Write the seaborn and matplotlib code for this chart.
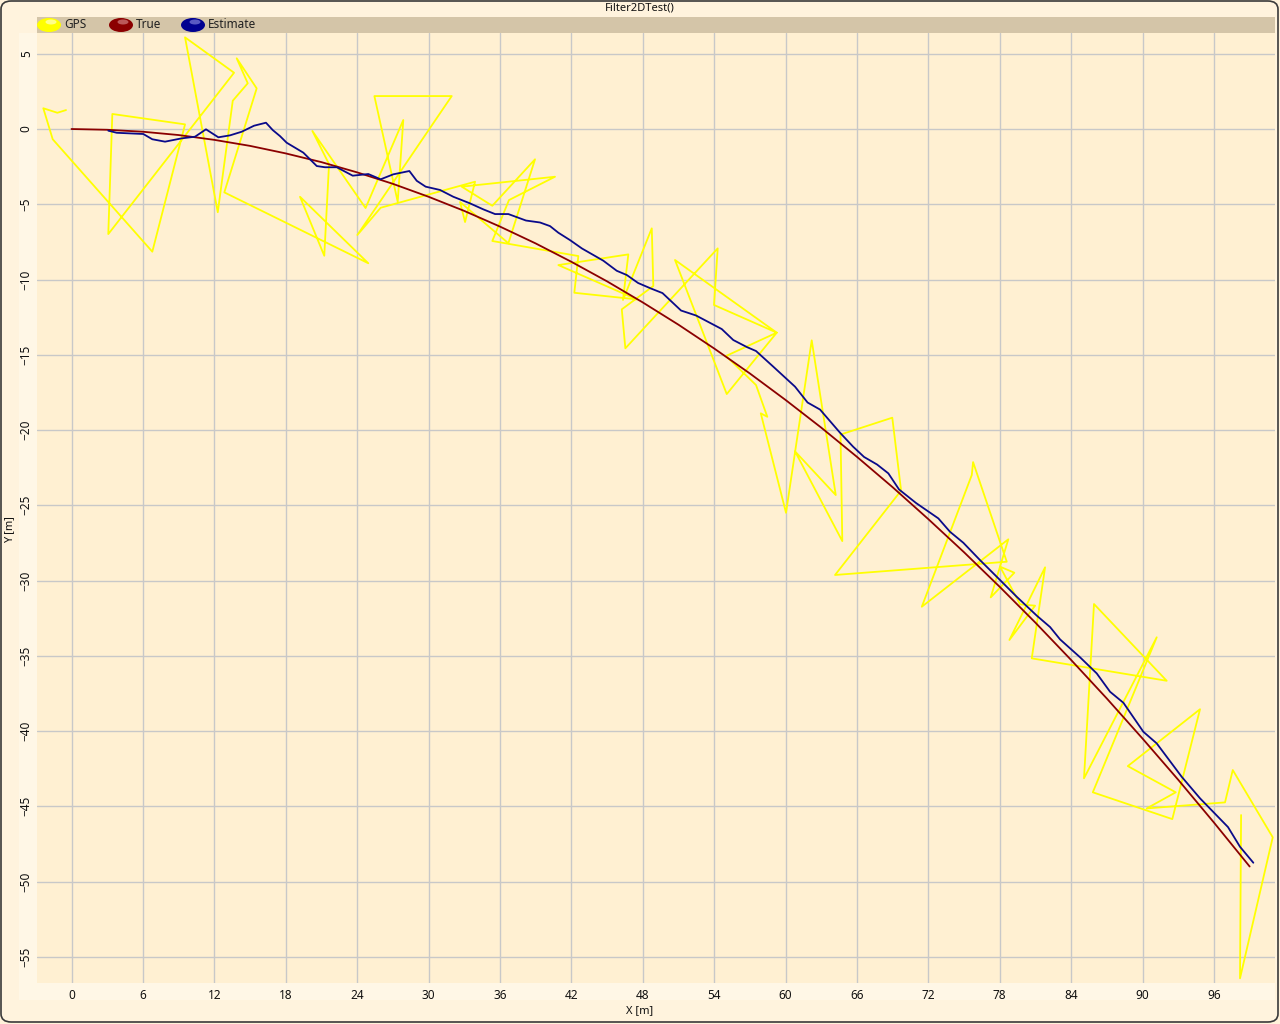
import numpy as np
import pandas as pd
import matplotlib
matplotlib.use('Agg')
import matplotlib.pyplot as plt
import seaborn as sns
from matplotlib.patches import Ellipse, Rectangle, FancyBboxPatch

# --- data ---
true_x = [0, 3, 6, 9, 12, 15, 18, 21, 24, 27, 30, 33, 36, 39, 42, 45, 48, 51, 54,
          57, 60, 63, 66, 69, 72, 75, 78, 81, 84, 87, 90, 93, 96, 99]
true_y = [0, -0.05, -0.18, -0.4, -0.72, -1.12, -1.62, -2.2, -2.88, -3.64, -4.5, -5.44,
          -6.48, -7.6, -8.82, -10.12, -11.52, -13.0, -14.58, -16.24, -18.0, -19.84,
          -21.78, -23.8, -25.92, -28.12, -30.42, -32.8, -35.28, -37.84, -40.5, -43.24,
          -46.08, -49.0]

est_x = [3.09, 3.80, 6.03, 6.79, 7.86, 9.26, 10.38, 11.30, 12.34, 13.32, 14.30, 15.34,
         16.34, 16.91, 17.52, 18.08, 19.48, 20.61, 21.30, 22.29, 23.63, 24.94, 25.98,
         27.04, 28.39, 29.01, 29.76, 30.97, 32.08, 33.49, 34.61, 35.59, 36.71, 38.19,
         39.37, 40.21, 40.91, 41.89, 42.90, 44.69, 45.82, 46.66, 47.61, 48.70, 49.66,
         51.22, 52.48, 54.64, 55.61, 56.76, 57.52, 58.97, 60.80, 61.85, 62.90, 64.58,
         65.67, 66.60, 67.69, 68.64, 69.54, 70.97, 72.84, 73.82, 74.94, 76.34, 77.75,
         79.43, 81.11, 82.23, 83.07, 84.75, 86.15, 87.27, 88.39, 90.07, 91.19, 93.29,
         94.83, 97.18, 98.19, 99.31]
est_y = [-0.11, -0.25, -0.33, -0.68, -0.84, -0.62, -0.51, -0.02, -0.55, -0.42, -0.18,
         0.22, 0.42, -0.07, -0.47, -0.91, -1.57, -2.46, -2.54, -2.54, -3.10, -2.99,
         -3.34, -3.01, -2.79, -3.44, -3.83, -4.05, -4.50, -4.94, -5.34, -5.65, -5.65,
         -6.08, -6.21, -6.45, -6.89, -7.38, -7.94, -8.75, -9.42, -9.70, -10.23, -10.60,
         -10.90, -12.06, -12.39, -13.29, -14.02, -14.49, -14.75, -15.79, -17.12, -18.17,
         -18.64, -20.18, -21.10, -21.79, -22.29, -22.88, -23.95, -24.85, -25.87, -26.76,
         -27.49, -28.64, -29.75, -31.08, -32.33, -33.09, -33.91, -35.10, -36.17, -37.39,
         -38.12, -40.05, -40.82, -43.04, -44.47, -46.38, -47.69, -48.75]

gps_x = [-0.46, -1.19, -2.37, -1.58, 6.79, 9.54, 3.43, 3.09, 13.66, 9.54, 12.29, 13.55,
         14.81, 13.88, 15.56, 12.84, 24.94, 19.20, 21.24, 21.64, 20.24, 24.71, 27.88,
         27.41, 25.45, 31.95, 24.02, 25.98, 33.91, 33.07, 32.65, 36.71, 38.95, 35.36,
         32.79, 40.63, 36.76, 35.36, 42.59, 42.25, 47.50, 40.91, 46.79, 46.34, 48.76,
         48.89, 46.24, 46.54, 54.30, 53.99, 59.26, 50.71, 55.06, 59.26, 55.00, 57.52,
         58.47, 57.92, 60.04, 62.20, 64.22, 60.80, 64.77, 64.62, 68.97, 69.71, 64.16,
         78.59, 75.76, 75.65, 71.45, 78.72, 77.24, 79.23, 78.03, 79.71, 80.97, 78.81,
         81.81, 80.69, 92.03, 85.92, 85.08, 91.19, 85.82, 92.50, 94.83, 88.76, 92.79,
         90.35, 96.93, 97.58, 100.94, 98.19, 98.28]
gps_y = [1.26, 1.08, 1.38, -0.68, -8.15, 0.31, 1.00, -6.98, 3.74, 6.09, -5.53, 1.88,
         3.04, 4.70, 2.70, -4.21, -8.92, -4.50, -8.42, -2.33, -0.13, -5.25, 0.60, -4.83,
         2.19, 2.19, -7.04, -5.23, -3.50, -6.18, -4.85, -7.59, -2.01, -5.10, -3.83,
         -3.17, -4.72, -7.44, -8.44, -10.88, -11.32, -9.04, -8.33, -11.36, -6.60,
         -10.43, -11.98, -14.57, -7.93, -11.69, -13.53, -8.70, -17.61, -13.53, -15.08,
         -17.01, -19.12, -18.89, -25.50, -14.04, -24.32, -21.42, -27.38, -20.30, -19.18,
         -24.02, -29.63, -28.75, -22.13, -22.99, -31.74, -27.26, -31.12, -29.48, -29.08,
         -31.58, -31.67, -33.95, -29.12, -35.17, -36.66, -31.56, -43.14, -33.77, -44.07,
         -45.85, -38.55, -42.33, -44.07, -45.14, -44.74, -42.59, -47.06, -56.43, -45.58]

x_ticks = list(range(0, 97, 6))
y_ticks = list(range(5, -56, -5))

gps = pd.DataFrame({'x': gps_x, 'y': gps_y})
truth = pd.DataFrame({'x': true_x, 'y': true_y})
est = pd.DataFrame({'x': est_x, 'y': est_y})

sns.set_style('white')
plt.rcParams['font.family'] = ['Noto Sans', 'DejaVu Sans']

W, H = 1280, 1024
fig = plt.figure(figsize=(12.8, 10.24), dpi=100)
fig.patch.set_facecolor('#FFF2DA')

def fx(px):
    return px / W

def fy(py):
    return 1 - py / H

# outer rounded frame
frame = FancyBboxPatch((fx(1), fy(1022)), fx(1277), 1021 / H,
                       boxstyle='round,pad=0,rounding_size=0.008',
                       transform=fig.transFigure, facecolor='#FFF3DD',
                       edgecolor='#3A3A3A', linewidth=1.2, zorder=-3)
fig.patches.append(frame)

# tick label bands
fig.patches.append(Rectangle((fx(19), fy(1000)), fx(1275 - 19), 17 / H,
                             transform=fig.transFigure, facecolor='#FFF7E6',
                             edgecolor='none', zorder=-2))
fig.patches.append(Rectangle((fx(19), fy(1000)), fx(18), (1000 - 33) / H,
                             transform=fig.transFigure, facecolor='#FFF7E6',
                             edgecolor='none', zorder=-2))

# legend bar
fig.patches.append(Rectangle((fx(37), fy(33)), fx(1275 - 37), 16 / H,
                             transform=fig.transFigure, facecolor='#D4C5A8',
                             edgecolor='none', zorder=1))

legend_items = [('GPS', '#FFFF00', '#FFFFB0', 49, 64),
                ('True', '#8B0000', '#C87070', 121, 136),
                ('Estimate', '#000090', '#7070D0', 193, 208)]
for label, col, hl, cx, tx in legend_items:
    fig.patches.append(Ellipse((fx(cx), fy(25)), 24 / W, 14 / H,
                               transform=fig.transFigure, facecolor=col,
                               edgecolor='none', zorder=2))
    fig.patches.append(Ellipse((fx(cx + 2), fy(22)), 11 / W, 5 / H,
                               transform=fig.transFigure, facecolor=hl,
                               edgecolor='none', alpha=0.8, zorder=3))
    fig.text(fx(tx), fy(25), label, fontsize=8.5, va='center', ha='left',
             color='#222222', zorder=4)

fig.text(0.5, fy(8), 'Filter2DTest()', fontsize=8, ha='center', va='center',
         color='#111111')

ax = fig.add_axes([fx(37), fy(983), fx(1275 - 37), (983 - 33) / H])
ax.set_zorder(0)
ax.set_facecolor('#FFF0D2')

sns.lineplot(data=gps, x='x', y='y', sort=False, estimator=None, ax=ax,
             color='#FFFF00', linewidth=1.3, zorder=3)
sns.lineplot(data=truth, x='x', y='y', sort=False, estimator=None, ax=ax,
             color='#8B0000', linewidth=1.3, zorder=4)
sns.lineplot(data=est, x='x', y='y', sort=False, estimator=None, ax=ax,
             color='#0A0A8A', linewidth=1.3, zorder=5)

ax.set_xlim(-2.9, 101.13)
ax.set_ylim(-56.74, 6.38)
ax.set_xticks(x_ticks)
ax.set_yticks(y_ticks)
ax.grid(True, color='#C8C8C8', linewidth=1.0)
ax.set_axisbelow(True)
for s in ax.spines.values():
    s.set_visible(False)
ax.tick_params(axis='both', length=0, labelsize=8.5, colors='#111111')
ax.tick_params(axis='x', pad=4)
ax.tick_params(axis='y', pad=3, labelrotation=90)
for lab in ax.get_yticklabels():
    lab.set_va('center')
ax.set_xlabel('')
ax.set_ylabel('')

fig.text(0.5, fy(1011), 'X [m]', fontsize=8, ha='center', va='center',
         color='#111111')
fig.text(fx(10), fy(530), 'Y [m]', fontsize=8, ha='center', va='center',
         rotation=90, color='#111111')

fig.savefig('out.png', dpi=100, facecolor=fig.get_facecolor())
